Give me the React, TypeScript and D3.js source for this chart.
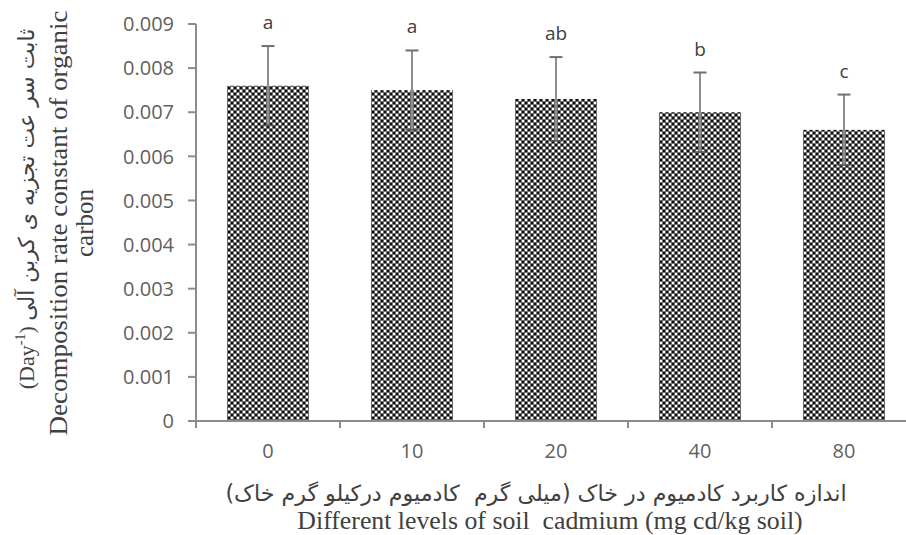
import * as d3 from "d3";

const levels = ["0", "10", "20", "40", "80"];
const rates = [0.0076, 0.0075, 0.0073, 0.007, 0.0066];
const errors = [0.0009, 0.0009, 0.00095, 0.0009, 0.0008];
const letters = ["a", "a", "ab", "b", "c"];
const yTicks = [0, 0.001, 0.002, 0.003, 0.004, 0.005, 0.006, 0.007, 0.008, 0.009];

const yTitleFa = "ثابت سر عت تجزیه ی کربن آلی";
const yTitleEn1 = "Decomposition rate constant of organic";
const yTitleEn2 = "carbon";
const xTitleFa = "اندازه کاربرد کادمیوم در خاک (میلی گرم  کادمیوم درکیلو گرم خاک)";
const xTitleEn = "Different levels of soil  cadmium (mg cd/kg soil)";

const App = () => {
  const width = 906;
  const height = 535;
  const x0 = 196;
  const yBottom = 421;
  const yTop = 24;

  const xScale = d3
    .scaleBand()
    .domain(levels)
    .range([x0, x0 + 144 * levels.length])
    .paddingInner(0.43)
    .paddingOuter(0.215);

  const yScale = d3.scaleLinear().domain([0, 0.009]).range([yBottom, yTop]);
  const fmt = d3.format(".3f");
  const axisColor = "#8c8c8c";
  const sans = "'Open Sans', sans-serif";
  const serif = "'Liberation Serif', 'Times New Roman', serif";

  // category boundaries for the x ticks
  const bounds = levels.map((l) => xScale(l)! - (xScale.step() * xScale.paddingInner()) / 2);
  bounds.push(bounds[bounds.length - 1] + xScale.step());

  return (
    <svg
      width={width}
      height={height}
      style={{ position: "fixed", left: 0, top: 0, background: "#fff" }}
    >
      <defs>
        <pattern id="dots" width={6} height={6} patternUnits="userSpaceOnUse">
          <rect width={6} height={6} fill="#6e6e6e" />
          <rect x={0} y={0} width={2} height={2} fill="#ffffff" />
          <rect x={3} y={3} width={2} height={2} fill="#ffffff" />
          <rect x={3} y={0} width={2} height={2} fill="#111111" />
          <rect x={0} y={3} width={2} height={2} fill="#111111" />
        </pattern>
      </defs>

      {/* bars */}
      {levels.map((l, i) => (
        <rect
          key={l}
          x={xScale(l)!}
          y={yScale(rates[i])}
          width={xScale.bandwidth()}
          height={yBottom - yScale(rates[i])}
          fill="url(#dots)"
        />
      ))}

      {/* error bars + letters */}
      {levels.map((l, i) => {
        const cx = xScale(l)! + xScale.bandwidth() / 2;
        const top = yScale(rates[i] + errors[i]);
        const bot = yScale(rates[i] - errors[i]);
        return (
          <g key={"e" + l}>
            <line x1={cx} x2={cx} y1={top} y2={bot} stroke="#8f8f8f" strokeWidth={2} />
            <line x1={cx - 6.5} x2={cx + 6.5} y1={top} y2={top} stroke="#6f6f6f" strokeWidth={2} />
            <line x1={cx - 6.5} x2={cx + 6.5} y1={bot} y2={bot} stroke="#555" strokeWidth={1.5} />
            <text
              x={cx}
              y={top - 17}
              textAnchor="middle"
              fontFamily={sans}
              fontSize={19}
              fill="#404040"
            >
              {letters[i]}
            </text>
          </g>
        );
      })}

      {/* y axis */}
      <line x1={x0} x2={x0} y1={yTop} y2={yBottom + 7} stroke={axisColor} strokeWidth={2} />
      {yTicks.map((t) => (
        <g key={t}>
          <line x1={x0 - 8} x2={x0} y1={yScale(t)} y2={yScale(t)} stroke={axisColor} strokeWidth={2} />
          <text
            x={174}
            y={yScale(t)}
            dy="0.36em"
            textAnchor="end"
            fontFamily={sans}
            fontSize={20}
            fill="#5f5f5f"
          >
            {t === 0 ? "0" : fmt(t)}
          </text>
        </g>
      ))}

      {/* x axis */}
      <line x1={x0 - 8} x2={width} y1={yBottom} y2={yBottom} stroke={axisColor} strokeWidth={2} />
      {bounds.map((b, i) => (
        <line key={i} x1={b} x2={b} y1={yBottom} y2={yBottom + 7} stroke={axisColor} strokeWidth={2} />
      ))}
      {levels.map((l) => (
        <text
          key={"t" + l}
          x={xScale(l)! + xScale.bandwidth() / 2}
          y={458}
          textAnchor="middle"
          fontFamily={sans}
          fontSize={20}
          fill="#5f5f5f"
        >
          {l}
        </text>
      ))}

      {/* x titles */}
      <text
        x={536}
        y={501}
        textAnchor="middle"
        direction="rtl"
        fontFamily="'DejaVu Sans', sans-serif"
        fontSize={22.2}
        fill="#404040"
        style={{ whiteSpace: "pre" }}
      >
        {xTitleFa}
      </text>
      <text
        x={550}
        y={529}
        textAnchor="middle"
        fontFamily={serif}
        fontSize={25.8}
        fill="#404040"
        style={{ whiteSpace: "pre" }}
      >
        {xTitleEn}
      </text>

      {/* y titles */}
      <g transform="translate(34,209) rotate(-90)">
        <text
          x={0}
          y={0}
          textAnchor="middle"
          fontFamily="'DejaVu Sans', sans-serif"
          fontSize={22}
          fill="#404040"
        >
          <tspan fontFamily={serif} fontSize={22}>(Day</tspan>
          <tspan fontFamily={serif} fontSize={14} dy={-9}>-1</tspan>
          <tspan fontFamily={serif} fontSize={22} dy={9}>{")\u200E "}</tspan>
          <tspan>{yTitleFa}</tspan>
        </text>
      </g>
      <g transform="translate(67,223) rotate(-90)">
        <text
          x={0}
          y={0}
          textAnchor="middle"
          fontFamily={serif}
          fontSize={25}
          fill="#404040"
          textLength={425}
          lengthAdjust="spacingAndGlyphs"
        >
          {yTitleEn1}
        </text>
      </g>
      <g transform="translate(93,223) rotate(-90)">
        <text x={0} y={0} textAnchor="middle" fontFamily={serif} fontSize={25} fill="#404040">
          {yTitleEn2}
        </text>
      </g>
    </svg>
  );
};

export default App;
